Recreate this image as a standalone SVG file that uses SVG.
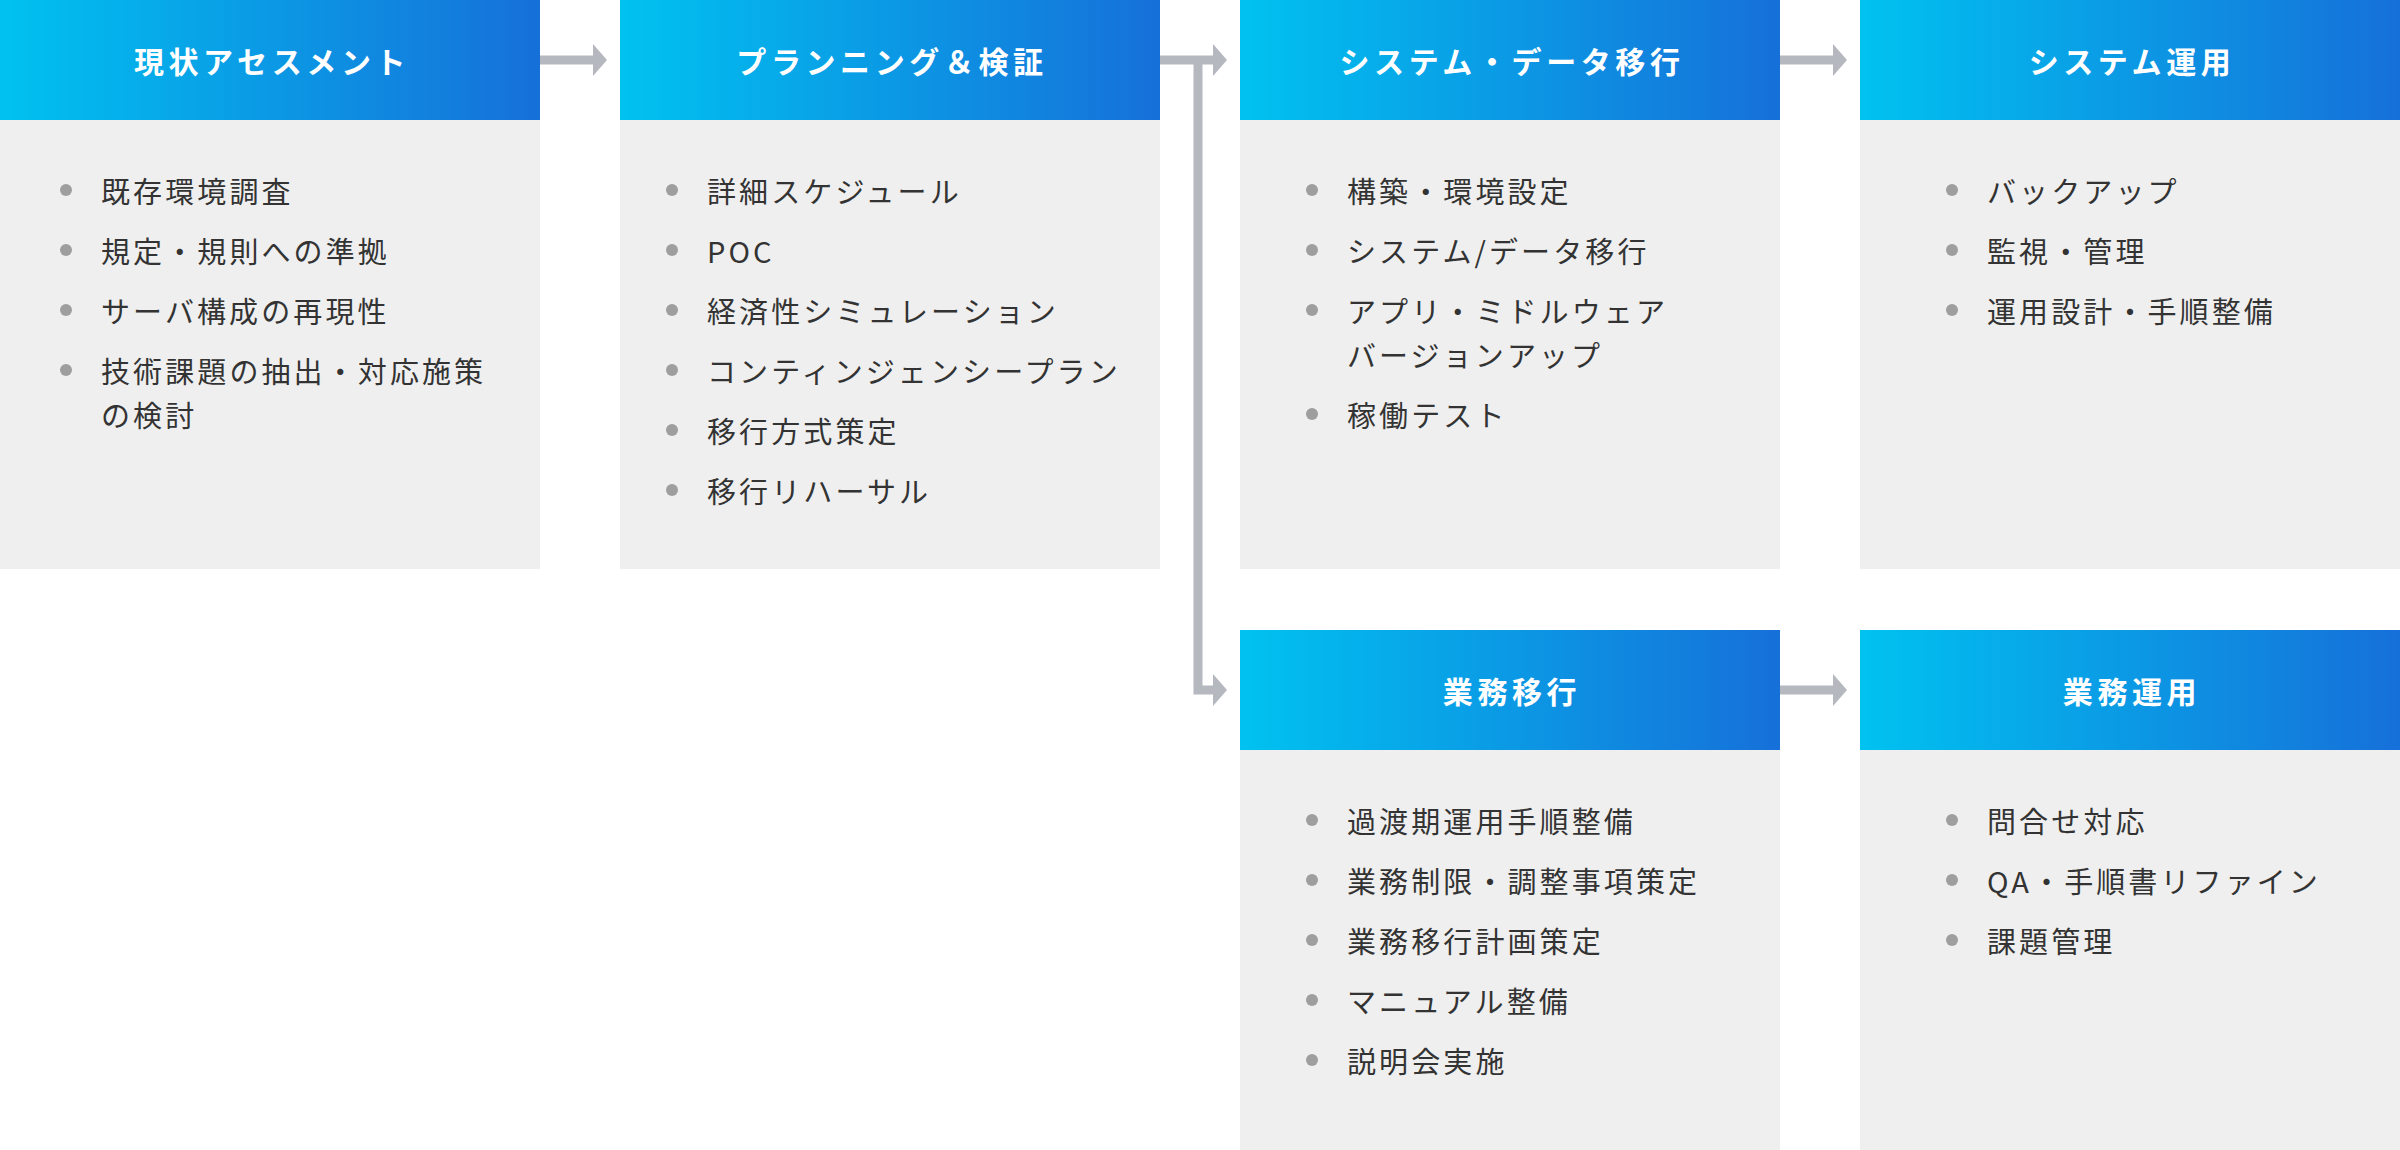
<svg xmlns="http://www.w3.org/2000/svg" width="2400" height="1150" viewBox="0 0 2400 1150">
<defs>
<linearGradient id="hg" x1="0" y1="0" x2="1" y2="0">
<stop offset="0" stop-color="#00C2F0"/>
<stop offset="1" stop-color="#1670D9"/>
</linearGradient>
<marker id="ah" viewBox="0 0 14 32" refX="0" refY="16" markerWidth="14" markerHeight="32" markerUnits="userSpaceOnUse" orient="auto">
<path d="M0,0 L14,16 L0,32 Z" fill="#B5B8BE"/>
</marker>
</defs>
<style>
.hd{fill:url(#hg)}
.bd{fill:#EFEFEF}
.tt{font-family:"Noto Sans CJK JP","Noto Sans",sans-serif;font-size:30px;font-weight:700;fill:#FFFFFF;letter-spacing:4.6px;text-anchor:middle;dominant-baseline:central}
.it{font-family:"Noto Sans CJK JP","Noto Sans",sans-serif;font-size:29px;font-weight:400;fill:#333333;letter-spacing:3.1px;dominant-baseline:central}
.bl{fill:#9E9E9E}
.cn{fill:none;stroke:#B5B8BE;stroke-width:9;stroke-linejoin:miter}
</style>
<rect width="2400" height="1150" fill="#FFFFFF"/>

<g id="node-assessment">
<rect class="bd" x="0" y="120" width="540" height="449"/>
<rect class="hd" x="0" y="0" width="540" height="120"/>
<text class="tt" x="272" y="60">現状アセスメント</text>
<circle class="bl" cx="66" cy="190" r="6"/><text class="it" x="101" y="190">既存環境調査</text>
<circle class="bl" cx="66" cy="250" r="6"/><text class="it" x="101" y="250">規定・規則への準拠</text>
<circle class="bl" cx="66" cy="310" r="6"/><text class="it" x="101" y="310">サーバ構成の再現性</text>
<circle class="bl" cx="66" cy="370" r="6"/><text class="it" x="101" y="370">技術課題の抽出・対応施策</text>
<text class="it" x="101" y="414">の検討</text>
</g>

<g id="node-planning">
<rect class="bd" x="620" y="120" width="540" height="449"/>
<rect class="hd" x="620" y="0" width="540" height="120"/>
<text class="tt" x="892" y="60">プランニング＆検証</text>
<circle class="bl" cx="672" cy="190" r="6"/><text class="it" x="707" y="190">詳細スケジュール</text>
<circle class="bl" cx="672" cy="250" r="6"/><text class="it" x="707" y="250">POC</text>
<circle class="bl" cx="672" cy="310" r="6"/><text class="it" x="707" y="310">経済性シミュレーション</text>
<circle class="bl" cx="672" cy="370" r="6"/><text class="it" x="707" y="370">コンティンジェンシープラン</text>
<circle class="bl" cx="672" cy="430" r="6"/><text class="it" x="707" y="430">移行方式策定</text>
<circle class="bl" cx="672" cy="490" r="6"/><text class="it" x="707" y="490">移行リハーサル</text>
</g>

<g id="node-system-migration">
<rect class="bd" x="1240" y="120" width="540" height="449"/>
<rect class="hd" x="1240" y="0" width="540" height="120"/>
<text class="tt" x="1512" y="60">システム・データ移行</text>
<circle class="bl" cx="1312" cy="190" r="6"/><text class="it" x="1347" y="190">構築・環境設定</text>
<circle class="bl" cx="1312" cy="250" r="6"/><text class="it" x="1347" y="250">システム/データ移行</text>
<circle class="bl" cx="1312" cy="310" r="6"/><text class="it" x="1347" y="310">アプリ・ミドルウェア</text>
<text class="it" x="1347" y="354">バージョンアップ</text>
<circle class="bl" cx="1312" cy="414" r="6"/><text class="it" x="1347" y="414">稼働テスト</text>
</g>

<g id="node-system-operation">
<rect class="bd" x="1860" y="120" width="540" height="449"/>
<rect class="hd" x="1860" y="0" width="540" height="120"/>
<text class="tt" x="2132" y="60">システム運用</text>
<circle class="bl" cx="1952" cy="190" r="6"/><text class="it" x="1987" y="190">バックアップ</text>
<circle class="bl" cx="1952" cy="250" r="6"/><text class="it" x="1987" y="250">監視・管理</text>
<circle class="bl" cx="1952" cy="310" r="6"/><text class="it" x="1987" y="310">運用設計・手順整備</text>
</g>

<g id="node-business-migration">
<rect class="bd" x="1240" y="750" width="540" height="400"/>
<rect class="hd" x="1240" y="630" width="540" height="120"/>
<text class="tt" x="1512" y="690">業務移行</text>
<circle class="bl" cx="1312" cy="820" r="6"/><text class="it" x="1347" y="820">過渡期運用手順整備</text>
<circle class="bl" cx="1312" cy="880" r="6"/><text class="it" x="1347" y="880">業務制限・調整事項策定</text>
<circle class="bl" cx="1312" cy="940" r="6"/><text class="it" x="1347" y="940">業務移行計画策定</text>
<circle class="bl" cx="1312" cy="1000" r="6"/><text class="it" x="1347" y="1000">マニュアル整備</text>
<circle class="bl" cx="1312" cy="1060" r="6"/><text class="it" x="1347" y="1060">説明会実施</text>
</g>

<g id="node-business-operation">
<rect class="bd" x="1860" y="750" width="540" height="400"/>
<rect class="hd" x="1860" y="630" width="540" height="120"/>
<text class="tt" x="2132" y="690">業務運用</text>
<circle class="bl" cx="1952" cy="820" r="6"/><text class="it" x="1987" y="820">問合せ対応</text>
<circle class="bl" cx="1952" cy="880" r="6"/><text class="it" x="1987" y="880">QA・手順書リファイン</text>
<circle class="bl" cx="1952" cy="940" r="6"/><text class="it" x="1987" y="940">課題管理</text>
</g>

<g id="connectors">
<path class="cn" d="M540,60 H593" marker-end="url(#ah)"/>
<path class="cn" d="M1160,60 H1213" marker-end="url(#ah)"/>
<path class="cn" d="M1198,60 V690 H1213" marker-end="url(#ah)"/>
<path class="cn" d="M1780,60 H1833" marker-end="url(#ah)"/>
<path class="cn" d="M1780,690 H1833" marker-end="url(#ah)"/>
</g>
</svg>
